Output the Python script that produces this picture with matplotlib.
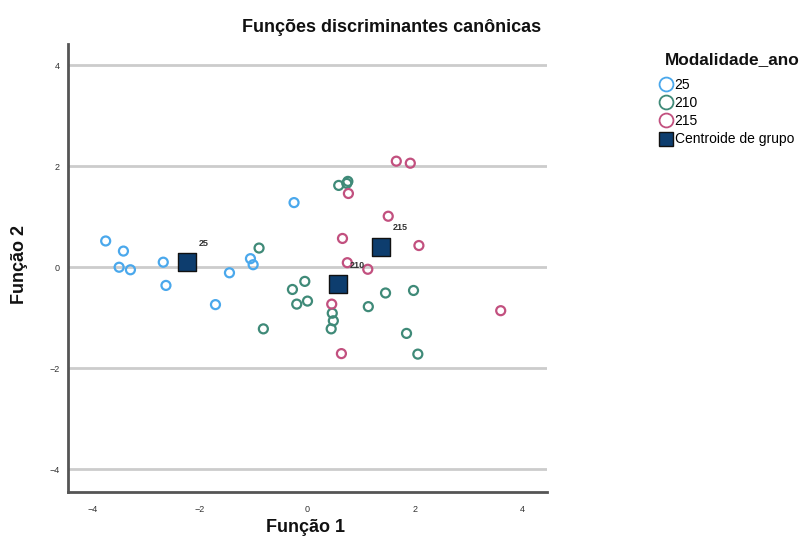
import numpy as np
import matplotlib
matplotlib.use("Agg")
import matplotlib.pyplot as plt
from matplotlib.lines import Line2D

plt.rcParams['font.family'] = ['Liberation Sans', 'DejaVu Sans']

# canonical discriminant scores
f1_25 = [-3.75, -3.42, -3.50, -3.29, -2.68, -2.63, -1.71, -1.45, -1.06, -1.01, -0.25]
f2_25 = [0.52, 0.32, 0.00, -0.05, 0.10, -0.36, -0.74, -0.11, 0.17, 0.05, 1.28]

f1_210 = [-0.90, -0.82, -0.28, -0.20, 0.00, -0.05, 0.58, 0.75, 0.73, 0.46, 0.48,
          0.44, 1.13, 1.45, 1.97, 1.84, 2.05]
f2_210 = [0.38, -1.22, -0.44, -0.73, -0.67, -0.28, 1.62, 1.70, 1.66, -0.91, -1.06,
          -1.22, -0.78, -0.51, -0.46, -1.31, -1.72]

f1_215 = [1.65, 1.91, 0.76, 1.50, 0.65, 2.07, 0.74, 1.12, 0.45, 0.63, 3.59]
f2_215 = [2.10, 2.06, 1.46, 1.01, 0.57, 0.43, 0.09, -0.04, -0.73, -1.71, -0.86]

groups = ['25', '210', '215']
cent_f1 = [-2.23, 0.57, 1.37]
cent_f2 = [0.10, -0.34, 0.40]

colors = {'25': '#4aa8ec', '210': '#3f8a78', '215': '#c2507f'}

fig = plt.figure(figsize=(8.08, 5.43), dpi=100)
ax = fig.add_axes([68 / 808, 1 - 492 / 543, 479 / 808, 448 / 543])

for g, xs, ys in zip(groups, [f1_25, f1_210, f1_215], [f2_25, f2_210, f2_215]):
    ax.scatter(xs, ys, s=42, facecolors='none', edgecolors=colors[g],
               linewidths=1.6, zorder=3)

ax.scatter(cent_f1, cent_f2, s=150, marker='s', c='#0d3d6e',
           edgecolors='#111111', linewidths=1.0, zorder=4)
for g, x, y in zip(groups, cent_f1, cent_f2):
    ax.annotate(g, (x, y), xytext=(8, 12), textcoords='offset points',
                fontsize=6.5, color='#333333', fontweight='bold', zorder=5)

ax.set_xlim(-4.45, 4.45)
ax.set_ylim(-4.45, 4.42)
ax.set_xticks([-4, -2, 0, 2, 4])
ax.set_yticks([-4, -2, 0, 2, 4])
ax.tick_params(length=0, labelsize=6.5, colors='#333333')
ax.tick_params(axis='x', pad=9)
ax.tick_params(axis='y', pad=6)
ax.yaxis.grid(True, color='#cccccc', linewidth=2)
ax.set_axisbelow(True)
for s in ['top', 'right']:
    ax.spines[s].set_visible(False)
for s in ['left', 'bottom']:
    ax.spines[s].set_color('#555555')
    ax.spines[s].set_linewidth(2)

fig.text(392 / 808, 1 - 27 / 543, 'Funções discriminantes canônicas',
         ha='center', va='center', fontsize=13, fontweight='bold', color='#111111')
fig.text(305 / 808, 1 - 528 / 543, 'Função 1', ha='center', va='center',
         fontsize=13, fontweight='bold', color='#111111')
fig.text(20 / 808, 1 - 265 / 543, 'Função 2', ha='center', va='center',
         fontsize=13, fontweight='bold', color='#111111', rotation=90)

# legend
fig.text(665 / 808, 1 - 60 / 543, 'Modalidade_ano', ha='left', va='center',
         fontsize=12.4, fontweight='bold', color='#111111')
handles = [Line2D([], [], ls='none', marker='o', ms=10, mfc='none',
                  mec=colors[g], mew=1.3) for g in groups]
handles.append(Line2D([], [], ls='none', marker='s', ms=10, mfc='#0d3d6e',
                      mec='#111111', mew=1.0))
fig.legend(handles, groups + ['Centroide de grupo'],
           loc='upper left', bbox_to_anchor=(660 / 808, 1 - 78 / 543),
           frameon=False, fontsize=10, handlelength=0.9, handletextpad=0.15,
           labelspacing=0.3, borderaxespad=0, borderpad=0)

fig.savefig('out.png', dpi=100)
